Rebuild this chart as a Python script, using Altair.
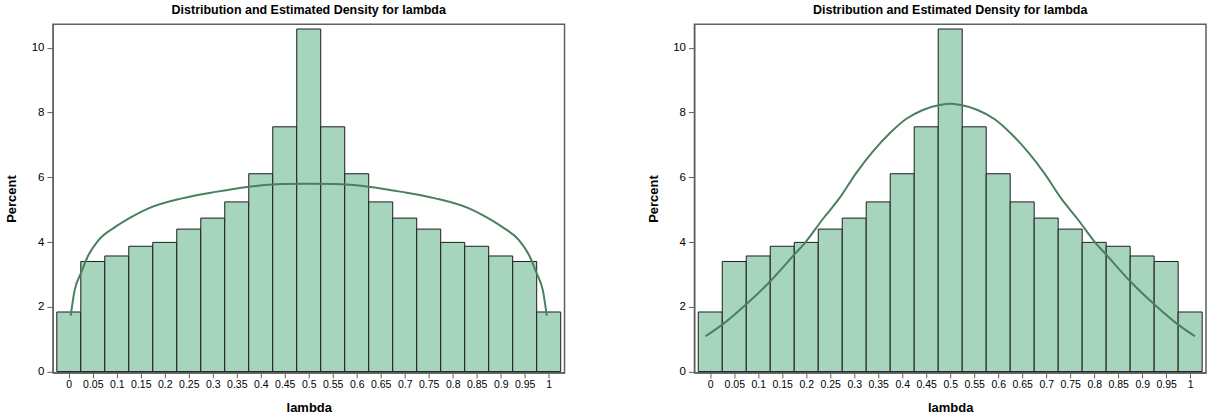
import altair as alt
import pandas as pd

# ---- data ----
lambda_centers = [0, 0.05, 0.1, 0.15, 0.2, 0.25, 0.3, 0.35, 0.4, 0.45, 0.5,
                  0.55, 0.6, 0.65, 0.7, 0.75, 0.8, 0.85, 0.9, 0.95, 1]
percent = [1.84, 3.40, 3.57, 3.87, 3.99, 4.40, 4.74, 5.24, 6.11, 7.56, 10.58,
           7.56, 6.11, 5.24, 4.74, 4.40, 3.99, 3.87, 3.57, 3.40, 1.84]
bin_width = 0.05

left_curve_x = [0.004, 0.012, 0.025, 0.039, 0.062, 0.097, 0.131, 0.166, 0.236, 0.306,
                0.376, 0.445, 0.5, 0.555, 0.624, 0.694, 0.764, 0.834, 0.869, 0.903,
                0.938, 0.961, 0.975, 0.988, 0.996]
left_curve_y = [1.73, 2.5, 3.03, 3.54, 4.06, 4.47, 4.78, 5.04, 5.35, 5.55,
                5.71, 5.79, 5.80, 5.79, 5.71, 5.55, 5.35, 5.04, 4.78, 4.47,
                4.06, 3.54, 3.03, 2.5, 1.73]

right_curve_x = [-0.01, 0.025, 0.075, 0.125, 0.176, 0.197, 0.235, 0.27, 0.304, 0.339,
                 0.374, 0.408, 0.443, 0.478, 0.5, 0.522, 0.557, 0.592, 0.626, 0.661,
                 0.696, 0.73, 0.765, 0.803, 0.824, 0.875, 0.925, 0.975, 1.01]
right_curve_y = [1.09, 1.45, 2.08, 2.79, 3.63, 3.97, 4.72, 5.37, 6.13, 6.8,
                 7.36, 7.8, 8.08, 8.23, 8.27, 8.23, 8.08, 7.8, 7.36, 6.8,
                 6.13, 5.37, 4.72, 3.97, 3.63, 2.79, 2.08, 1.45, 1.09]

x_tick_values = lambda_centers
y_tick_values = [0, 2, 4, 6, 8, 10]

title_text = "Distribution and Estimated Density for lambda"

bars_df = pd.DataFrame({"lambda": lambda_centers, "percent": percent})
bars_df["start"] = bars_df["lambda"] - bin_width / 2
bars_df["end"] = bars_df["lambda"] + bin_width / 2
bars_df["base"] = 0.0

FONT = "Liberation Sans"
FRAME = "#5f5f5f"
FILL = "#A7D4BC"
CURVE = "#4B805E"


def panel(cx, cy):
    xscale = alt.Scale(domain=[-0.033, 1.033], nice=False, zero=False)
    yscale = alt.Scale(domain=[-0.04, 10.73], nice=False, zero=False)
    xaxis = alt.Axis(title="lambda", values=x_tick_values, format=".2~f",
                     labelOverlap=False, labelFlush=False, tickSize=5,
                     labelPadding=2, titlePadding=11, labelFontSize=10.5,
                     titleFontSize=13, titleFontWeight="bold", grid=False,
                     domainColor=FRAME, tickColor=FRAME, labelColor="black",
                     titleColor="black", labelFont=FONT, titleFont=FONT)
    yaxis = alt.Axis(title="Percent", values=y_tick_values, tickSize=6,
                     labelPadding=3, labelFontSize=11.5, titleFontSize=13,
                     titleFontWeight="bold", grid=False, titleX=-41, titleY=174.5,
                     titleBaseline="middle", domainColor=FRAME, tickColor=FRAME,
                     labelColor="black", titleColor="black", labelFont=FONT,
                     titleFont=FONT, labelOverlap=False)
    bars = alt.Chart(bars_df).mark_rect(fill=FILL, stroke="#1c1c1c", strokeWidth=1).encode(
        x=alt.X("start:Q", scale=xscale, axis=xaxis),
        x2="end:Q",
        y=alt.Y("percent:Q", scale=yscale, axis=yaxis),
        y2="base:Q",
    )
    curve_df = pd.DataFrame({"x": cx, "y": cy})
    line = alt.Chart(curve_df).mark_line(color=CURVE, strokeWidth=2, interpolate="monotone").encode(
        x=alt.X("x:Q", scale=xscale, axis=xaxis),
        y=alt.Y("y:Q", scale=yscale, axis=yaxis),
    )
    return alt.layer(bars, line).properties(
        width=512, height=349,
        title=alt.TitleParams(title_text, fontSize=12.5, fontWeight="bold",
                              anchor="middle", baseline="bottom", offset=-5,
                              color="black", font=FONT),
    )


left = panel(left_curve_x, left_curve_y)
right = panel(right_curve_x, right_curve_y)

chart = alt.hconcat(left, right, spacing=81).properties(
    padding={"left": 5, "top": 2, "right": 0, "bottom": 0}
).configure(font=FONT).configure_view(stroke=FRAME, strokeWidth=1.5)

chart.save("out.html", embed_options={"renderer": "svg", "actions": False})
